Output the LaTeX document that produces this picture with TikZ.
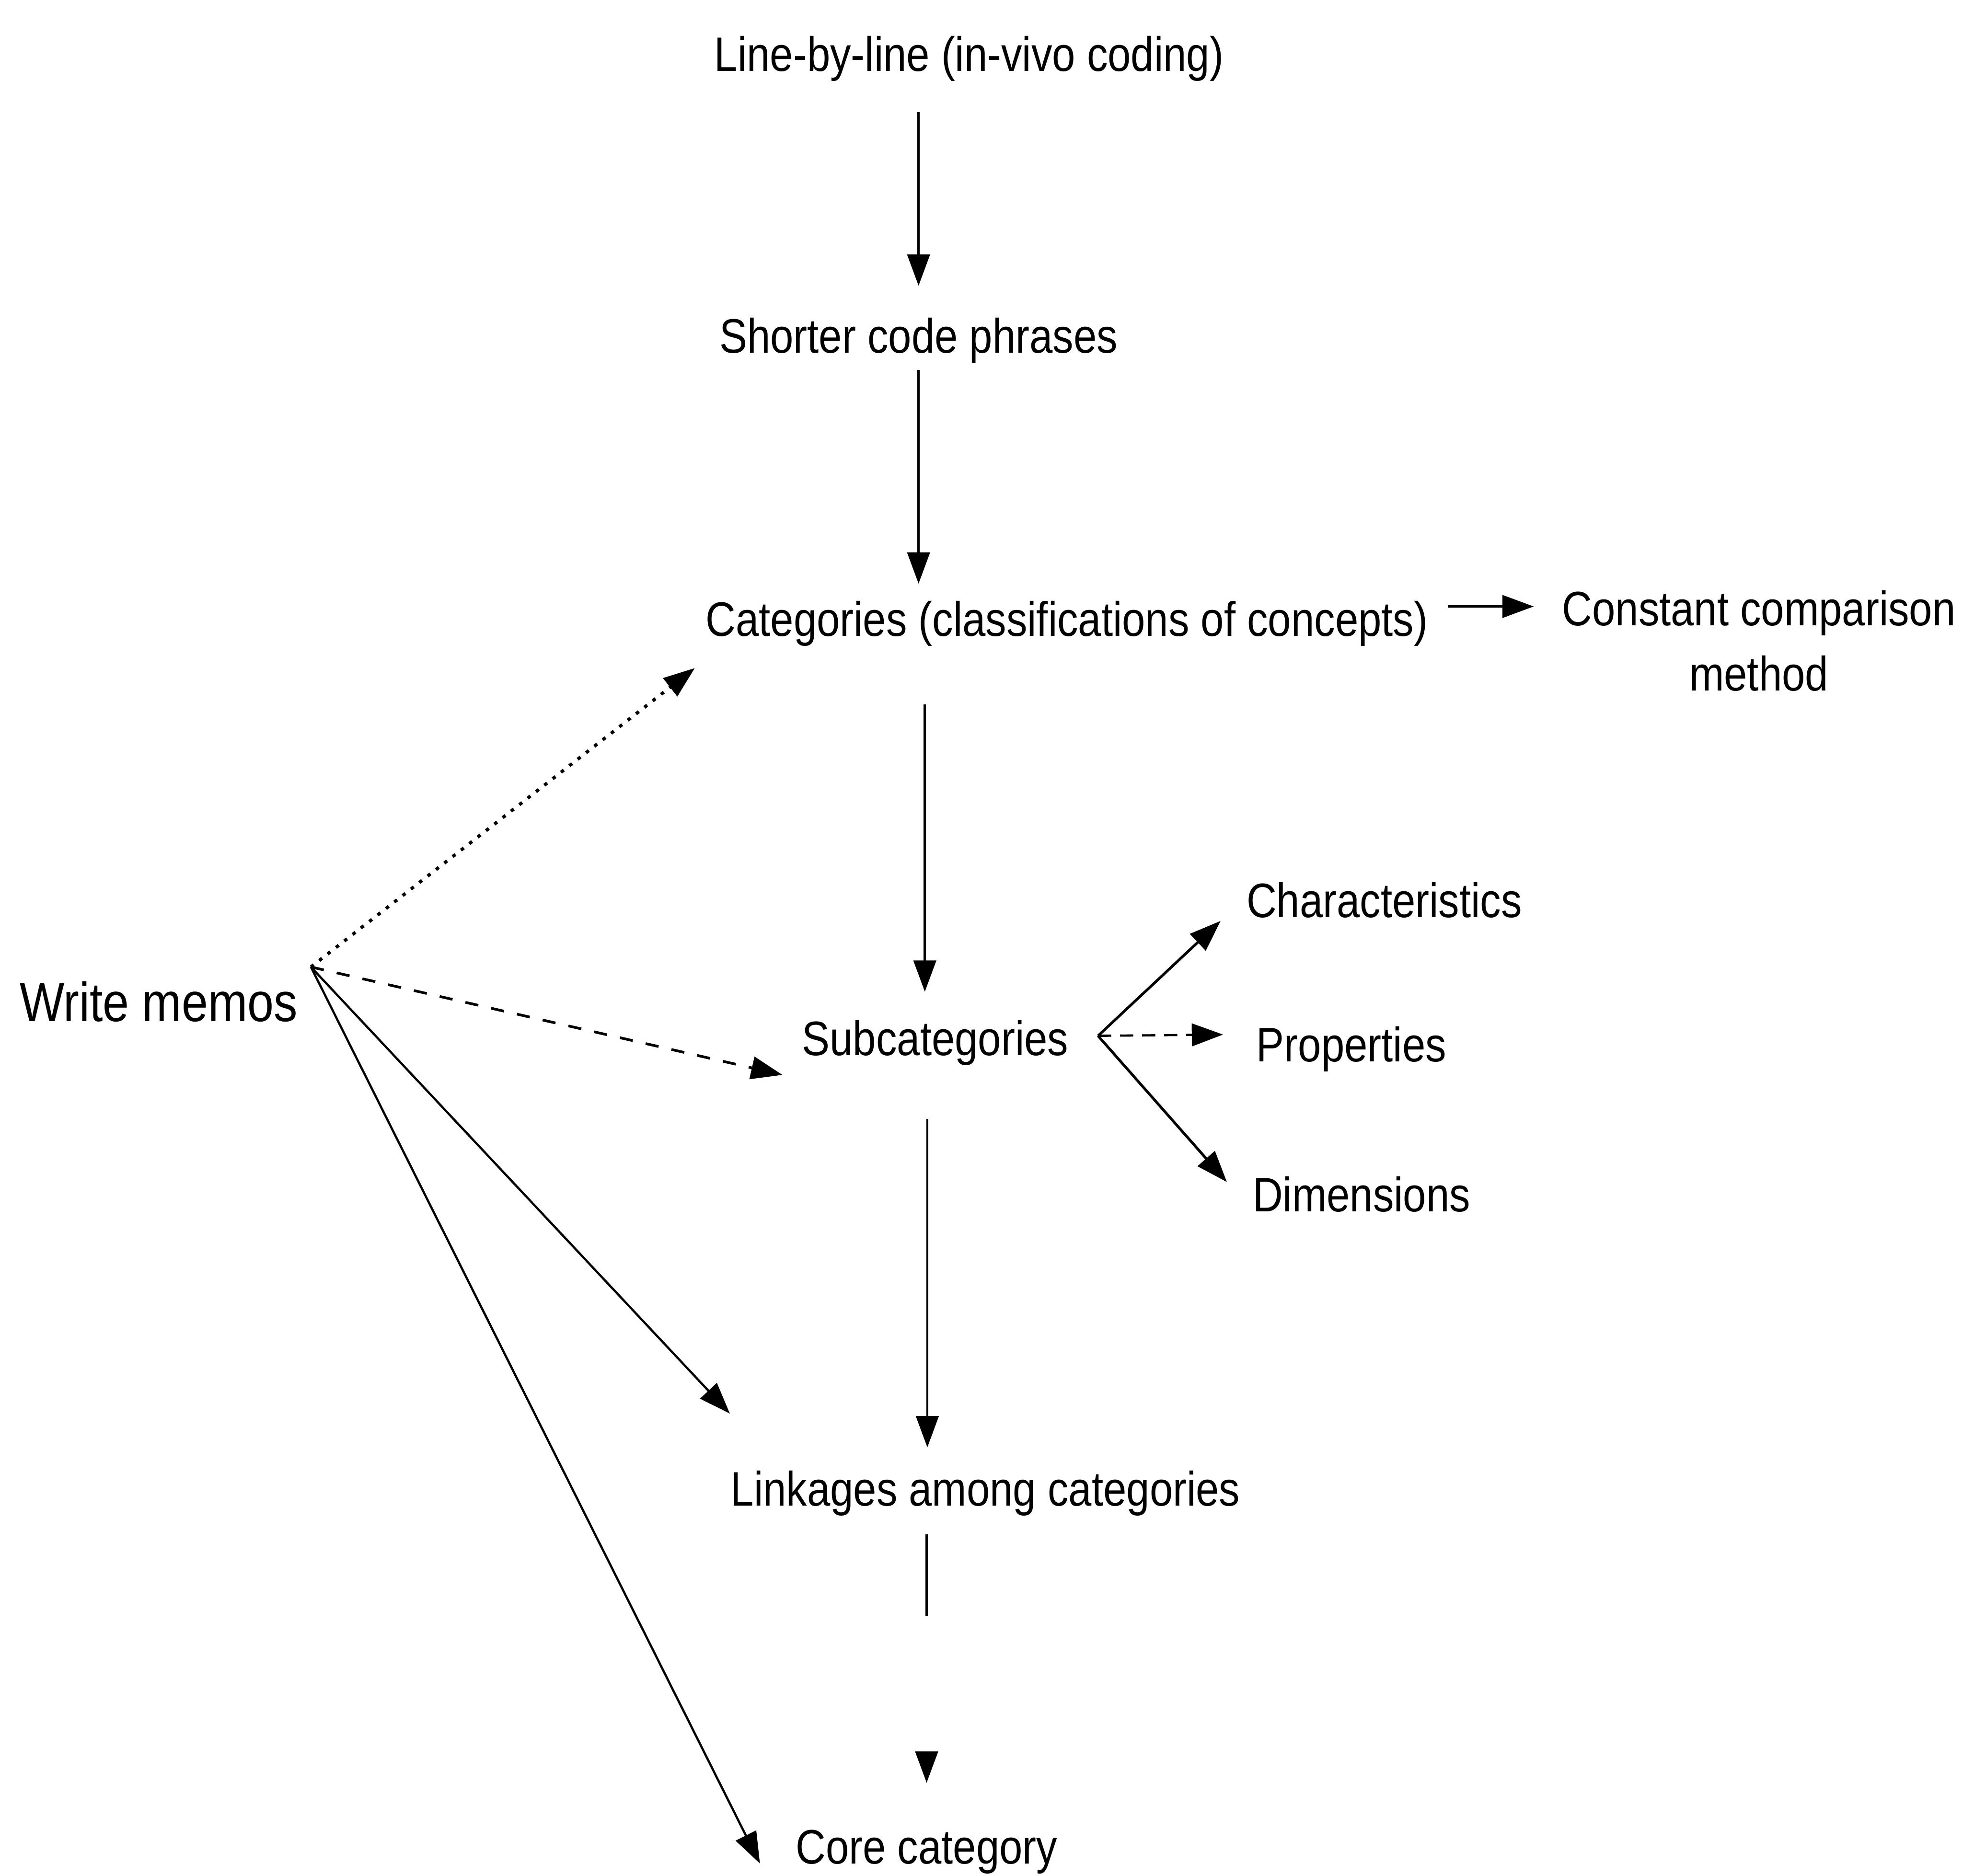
\documentclass[tikz,border=0pt]{standalone}
\usepackage{fontspec}
\setmainfont{Liberation Sans}[FakeStretch=0.86]
\usetikzlibrary{arrows.meta,calc}
\begin{document}
\begin{tikzpicture}[x=0.01cm,y=-0.01cm,
  lbl/.style={inner sep=0pt, anchor=base west, text height=0.29cm, text depth=0.08cm, font=\fontsize{11pt}{14.8pt}\selectfont},
  arr/.style={-{Triangle[length=0.25cm,width=0.18cm]}, line width=0.5pt},
  dots/.style={line width=0.75pt, dash pattern=on 0.8pt off 1.6pt},
]
\useasboundingbox (0,0) rectangle (1568,1498.4);
% nodes
\node[lbl] (l1) at (570,57) {Line-by-line (in-vivo coding)};
\node[lbl] (sh) at (574,282) {Shorter code phrases};
\node[lbl] (cat) at (563,508) {Categories (classifications of concepts)};
\node[inner sep=0pt, align=center, font=\fontsize{11pt}{14.8pt}\selectfont] (cc) at (1405,512) {Constant comparison\\method};
\node[lbl, text height=0.33cm, font=\fontsize{12.5pt}{15pt}\selectfont] (wm) at (15,816) {Write memos};
\node[lbl] (sub) at (640,843) {Subcategories};
\node[lbl] (char) at (995,733) {Characteristics};
\node[lbl] (prop) at (1003,848) {Properties};
\node[lbl] (dim) at (1000,968) {Dimensions};
\node[lbl] (link) at (583,1203) {Linkages among categories};
\node[lbl] (core) at (635,1489) {Core category};
% hubs
\coordinate (hub) at ([shift={(10,-31)}]wm.east);
\coordinate (sh2) at ([shift={(23,-5)}]sub.east);
\coordinate (c0) at ([shift={(15,-13)}]cat.east);
% main vertical flow
\draw[arr, shorten <=0.24cm, shorten >=0.24cm] (l1.south -| sh.north) -- (sh.north);
\draw[arr, shorten <=0.05cm, shorten >=0.12cm] (sh.south) -- (sh.south |- cat.north);
\draw[arr, shorten <=0.46cm, shorten >=0.21cm] ([shift={(5,0)}]cat.south -| sh.south) -- ([shift={(5,0)}]sh.south |- sub.north);
\draw[arr, shorten <=0.42cm, shorten >=0.17cm] ([shift={(7,0)}]sub.south -| sh.south) -- ([shift={(7,0)}]sh.south |- link.north);
\draw[arr, shorten <=0.14cm, shorten >=0.35cm, dash pattern=on 0.65cm off 3cm] (link.south -| core.north) -- (core.north);
% constant comparison
\draw[arr, shorten >=0.22cm] (c0) -- (c0 -| cc.west);
% write memos
\draw[arr, dots] (hub) -- ([shift={(-8,17)}]cat.south west);
\draw[arr, dashed, line width=0.6pt] (hub) -- ([shift={(-15,7)}]sub.south west);
\draw[arr] (hub) -- ([shift={(0,-44)}]link.north west);
\draw[arr] (hub) -- ([shift={(-28,-9)}]core.south west);
% subcategories fan
\draw[arr, line width=0.6pt] (sh2) -- ([shift={(-20,-6)}]char.south west);
\draw[arr, densely dashed] (sh2) -- ([shift={(-26,-11)}]prop.west);
\draw[arr, line width=0.6pt] (sh2) -- ([shift={(-20,6)}]dim.north west);
\end{tikzpicture}
\end{document}
